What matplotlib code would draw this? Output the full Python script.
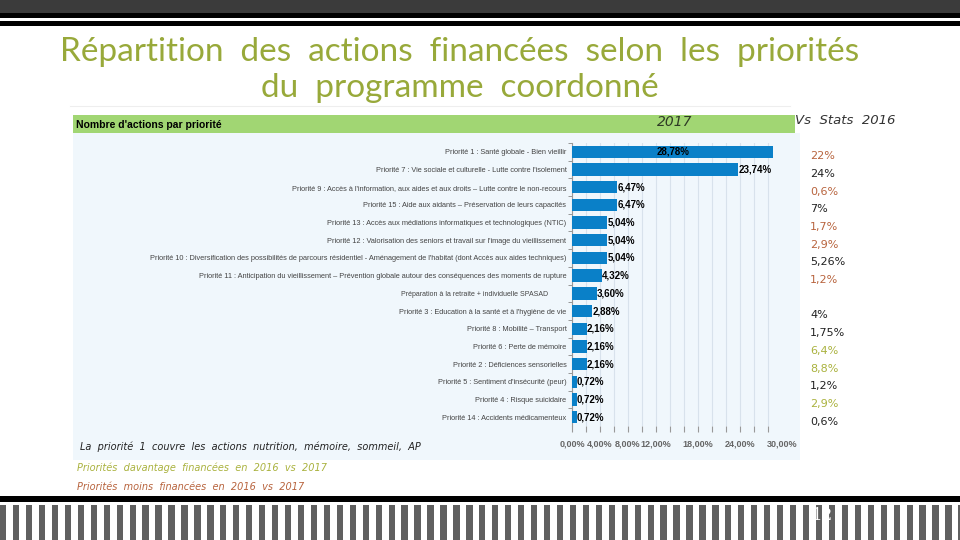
import matplotlib
matplotlib.use("Agg")
import matplotlib.pyplot as plt
import matplotlib.transforms as mtransforms
from matplotlib import font_manager
from matplotlib.patches import Rectangle

# ---------------- data ----------------
priorities = [
    "Priorité 1 : Santé globale - Bien vieillir",
    "Priorité 7 : Vie sociale et culturelle - Lutte contre l'isolement",
    "Priorité 9 : Accès à l'information, aux aides et aux droits – Lutte contre le non-recours",
    "Priorité 15 : Aide aux aidants – Préservation de leurs capacités",
    "Priorité 13 : Accès aux médiations informatiques et technologiques (NTIC)",
    "Priorité 12 : Valorisation des seniors et travail sur l'image du vieillissement",
    "Priorité 10 : Diversification des possibilités de parcours résidentiel - Aménagement de l'habitat (dont Accès aux aides techniques)",
    "Priorité 11 : Anticipation du vieillissement – Prévention globale autour des conséquences des moments de rupture",
    "Préparation à la retraite + individuelle SPASAD",
    "Priorité 3 : Education à la santé et à l'hygiène de vie",
    "Priorité 8 : Mobilité – Transport",
    "Priorité 6 : Perte de mémoire",
    "Priorité 2 : Déficiences sensorielles",
    "Priorité 5 : Sentiment d'insécurité (peur)",
    "Priorité 4 : Risque suicidaire",
    "Priorité 14 : Accidents médicamenteux",
]
share_2017 = [28.78, 23.74, 6.47, 6.47, 5.04, 5.04, 5.04, 4.32, 3.60, 2.88, 2.16, 2.16, 2.16, 0.72, 0.72, 0.72]
stats_2016 = ["22%", "24%", "0,6%", "7%", "1,7%", "2,9%", "5,26%", "1,2%", "", "4%", "1,75%", "6,4%", "8,8%", "1,2%", "2,9%", "0,6%"]
# 'less' = moins financées en 2016, 'more' = davantage financées en 2016, '' = neutre
stats_trend = ["less", "", "less", "", "less", "less", "", "less", "", "", "", "more", "more", "", "more", ""]
major_ticks = list(range(0, 30, 2))
labelled_ticks = [0, 4, 8, 12, 18, 24]

# ---------------- fonts ----------------
avail = {f.name for f in font_manager.fontManager.ttflist}
narrow = "Liberation Sans Narrow" if "Liberation Sans Narrow" in avail else "Liberation Sans"
thin = "Lato" if "Lato" in avail else "DejaVu Sans"

C_TITLE = "#98a93a"
C_LESS = "#b8643e"
C_MORE = "#aab23e"
C_BAR = "#0a80c8"
C_HEADER = "#a1d673"
C_PANEL = "#f0f7fc"

fig = plt.figure(figsize=(9.6, 5.4), dpi=100)
bg = fig.add_axes([0, 0, 1, 1], zorder=0)
bg.set_xlim(0, 960)
bg.set_ylim(540, 0)
bg.axis("off")

# top bands
bg.add_patch(Rectangle((0, 0), 960, 13, color="#3b3b3b", lw=0))
bg.add_patch(Rectangle((0, 13), 960, 4.5, color="black", lw=0))
bg.add_patch(Rectangle((0, 20.5), 960, 5.5, color="black", lw=0))

# title
bg.text(460, 52, "Répartition  des  actions  financées  selon  les  priorités", ha="center", va="center",
        fontsize=24, color=C_TITLE, family=thin)
bg.text(460, 88, "du  programme  coordonné", ha="center", va="center",
        fontsize=24, color=C_TITLE, family=thin)
bg.plot([70, 790], [106, 106], color="#eeeeee", lw=0.8)

# chart panel
bg.add_patch(Rectangle((73, 133), 727, 327, color=C_PANEL, lw=0))
bg.add_patch(Rectangle((73, 115), 722, 18, color=C_HEADER, lw=0))
bg.text(76, 125, "Nombre d'actions par priorité", ha="left", va="center", fontsize=7.5,
        family=narrow, fontweight="bold", color="black")
bg.text(675, 122, "2017", ha="center", va="center", fontsize=10, style="italic",
        color="#2e3a25", family="DejaVu Sans")
bg.text(795, 121, "Vs  Stats  2016", ha="left", va="center", fontsize=9.5, style="italic",
        color="#333333", family="DejaVu Sans")
bg.text(80, 447, "La  priorité  1  couvre  les  actions  nutrition,  mémoire,  sommeil,  AP", ha="left",
        va="center", fontsize=7, style="italic", color="#222222", family="DejaVu Sans")

# footnotes
bg.text(77, 468, "Priorités  davantage  financées  en  2016  vs  2017", ha="left", va="center",
        fontsize=7, style="italic", color=C_MORE, family="DejaVu Sans")
bg.text(77, 487, "Priorités  moins  financées  en  2016  vs  2017", ha="left", va="center",
        fontsize=7, style="italic", color=C_LESS, family="DejaVu Sans")

# bottom band
bg.add_patch(Rectangle((0, 496), 960, 6, color="black", lw=0))
for k in range(0, 76):
    bg.add_patch(Rectangle((12.95 * k, 505), 6.3, 35, color="#606060", lw=0))
bg.text(823, 515, "12", ha="center", va="center", fontsize=12, color="white", family="DejaVu Serif",
        zorder=5)

# ---------------- bar chart ----------------
ax = fig.add_axes([572 / 960, 1 - 426 / 540, 210 / 960, 283 / 540], zorder=2)
ax.set_facecolor("none")
rows = list(range(len(priorities)))
ax.barh(rows, share_2017, height=0.7, color=C_BAR, zorder=3)
ax.set_xlim(0, 30)
ax.set_ylim(len(priorities) - 0.5, -0.5)

for x in major_ticks:
    ax.axvline(x, color="#d8e2ec", lw=0.8, zorder=1)

ax.set_xticks(major_ticks)
ax.set_xticklabels([f"{t},00%" if t in labelled_ticks else "" for t in major_ticks])
ax.set_xticks([30], minor=True)
ax.set_xticklabels(["30,00%"], minor=True)
ax.tick_params(axis="x", which="major", length=4, color="#999999", labelsize=6.5, labelcolor="#666666", pad=6)
ax.tick_params(axis="x", which="minor", length=0, labelsize=6.5, labelcolor="#666666", pad=10)
for lab in ax.get_xticklabels() + ax.get_xticklabels(minor=True):
    lab.set_family(narrow)
    lab.set_fontweight("bold")

ax.set_yticks(rows)
ax.set_yticklabels(priorities)
ax.set_yticks([r + 0.5 for r in rows[:-1]] + [-0.5], minor=True)
ax.tick_params(axis="y", which="major", length=0, pad=4, labelsize=5.3, labelcolor="#444444")
ax.tick_params(axis="y", which="minor", length=3, color="#888888")
for i, lab in enumerate(ax.get_yticklabels()):
    lab.set_family(narrow)
    if i == 8:
        lab.set_fontsize(5.0)
        lab.set_transform(lab.get_transform() + mtransforms.ScaledTranslation(-18 / 100, 0, fig.dpi_scale_trans))

for s in ["top", "right", "bottom"]:
    ax.spines[s].set_visible(False)
ax.spines["left"].set_color("#999999")

for r, v in zip(rows, share_2017):
    txt = f"{v:.2f}%".replace(".", ",")
    if v > 25:
        ax.text(v / 2, r, txt, ha="center", va="center", fontsize=7, fontweight="bold",
                family=narrow, color="black", zorder=4)
    else:
        ax.text(v, r, txt, ha="left", va="center", fontsize=7, fontweight="bold",
                family=narrow, color="black", zorder=4)

# 2016 comparison column
trans = mtransforms.blended_transform_factory(fig.transFigure, ax.transData)
col = {"less": C_LESS, "more": C_MORE, "": "#222222"}
for r, (s, t) in enumerate(zip(stats_2016, stats_trend)):
    if s:
        ax.text(810 / 960, r + 0.25, s, transform=trans, ha="left", va="center", fontsize=8,
                color=col[t], family="DejaVu Sans", clip_on=False)

fig.savefig("out.png", dpi=100)
